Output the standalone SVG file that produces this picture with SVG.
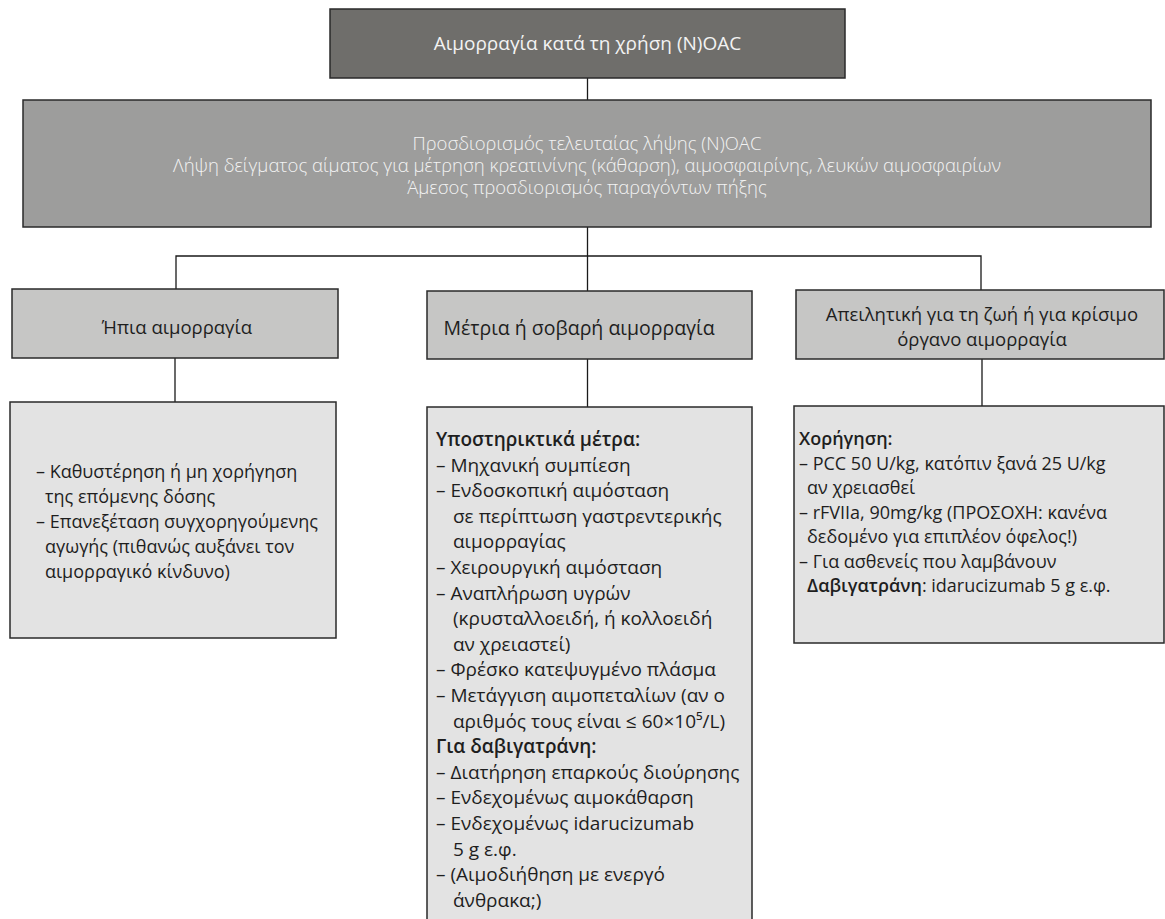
<svg xmlns="http://www.w3.org/2000/svg" width="1165" height="919" viewBox="0 0 1165 919">
<style>
.t{font-family:"Open Sans","Noto Sans","DejaVu Sans",sans-serif;font-size:18px;fill:#1e1e1e}
.l{font-size:19px}
.h{font-size:18.5px}
.s{font-size:18.5px;font-weight:300}
.m{text-anchor:middle}
.w{fill:#f3f3f3}
.b{font-weight:600}
.box{stroke:#2a2a2a;stroke-width:1.5}
.c{stroke:#1a1a1a;stroke-width:1.3;fill:none}
</style>
<rect width="1165" height="919" fill="#ffffff"/>
<g id="connectors">
<path class="c" d="M587.5 78V100"/>
<path class="c" d="M587.5 227V291"/>
<path class="c" d="M176 289V256H981V290"/>
<path class="c" d="M175 358V402"/>
<path class="c" d="M587.5 359V407"/>
<path class="c" d="M982 359V406"/>
</g>
<g id="top">
<rect class="box" x="330" y="9" width="515" height="69" fill="#6f6e6b"/>
<text class="t l m w" x="587.5" y="50">Αιμορραγία κατά τη χρήση (N)OAC</text>
</g>
<g id="assess">
<rect class="box" x="23" y="100" width="1128" height="127" fill="#9d9d9c"/>
<text class="t s m w" x="587" y="150">Προσδιορισμός τελευταίας λήψης (N)OAC</text>
<text class="t s m w" x="587" y="172">Λήψη δείγματος αίματος για μέτρηση κρεατινίνης (κάθαρση), αιμοσφαιρίνης, λευκών αιμοσφαιρίων</text>
<text class="t s m w" x="587" y="194">Άμεσος προσδιορισμός παραγόντων πήξης</text>
</g>
<g id="mild">
<rect class="box" x="12" y="289" width="326" height="69" fill="#c6c6c5"/>
<text class="t h m" x="177" y="334">Ήπια αιμορραγία</text>
</g>
<g id="moderate">
<rect class="box" x="427" y="291" width="325" height="68" fill="#c6c6c5"/>
<text class="t m" style="font-size:19.5px" x="579" y="335">Μέτρια ή σοβαρή αιμορραγία</text>
</g>
<g id="severe">
<rect class="box" x="796" y="290" width="368" height="69" fill="#c6c6c5"/>
<text class="t h m" x="982" y="321">Απειλητική για τη ζωή ή για κρίσιμο</text>
<text class="t h m" x="982" y="346">όργανο αιμορραγία</text>
</g>
<g id="mild-actions">
<rect class="box" x="10" y="402" width="326" height="236" fill="#e3e3e3"/>
<text class="t" x="36" y="478">– Καθυστέρηση ή μη χορήγηση</text>
<text class="t" x="45" y="503">της επόμενης δόσης</text>
<text class="t" x="36" y="528">– Επανεξέταση συγχορηγούμενης</text>
<text class="t" x="45" y="553">αγωγής (πιθανώς αυξάνει τον</text>
<text class="t" x="45" y="578">αιμορραγικό κίνδυνο)</text>
</g>
<g id="moderate-actions">
<rect class="box" x="427" y="407" width="325" height="530" fill="#e3e3e3"/>
<text class="t l b" x="436" y="446">Υποστηρικτικά μέτρα:</text>
<text class="t l" x="436" y="471.6">– Μηχανική συμπίεση</text>
<text class="t l" x="436" y="497.2">– Ενδοσκοπική αιμόσταση</text>
<text class="t l" x="453" y="522.8">σε περίπτωση γαστρεντερικής</text>
<text class="t l" x="453" y="548.4">αιμορραγίας</text>
<text class="t l" x="436" y="574">– Χειρουργική αιμόσταση</text>
<text class="t l" x="436" y="599.6">– Αναπλήρωση υγρών</text>
<text class="t l" x="453" y="625.2">(κρυσταλλοειδή, ή κολλοειδή</text>
<text class="t l" x="453" y="650.8">αν χρειαστεί)</text>
<text class="t l" x="436" y="676.4">– Φρέσκο κατεψυγμένο πλάσμα</text>
<text class="t l" x="436" y="702">– Μετάγγιση αιμοπεταλίων (αν ο</text>
<text class="t l" x="453" y="727.6">αριθμός τους είναι ≤ 60×10⁵/L)</text>
<text class="t l b" x="436" y="753.2">Για δαβιγατράνη:</text>
<text class="t l" x="436" y="778.8">– Διατήρηση επαρκούς διούρησης</text>
<text class="t l" x="436" y="804.4">– Ενδεχομένως αιμοκάθαρση</text>
<text class="t l" x="436" y="830">– Ενδεχομένως idarucizumab</text>
<text class="t l" x="453" y="855.6">5 g ε.φ.</text>
<text class="t l" x="436" y="881.2">– (Αιμοδιήθηση με ενεργό</text>
<text class="t l" x="453" y="906.8">άνθρακα;)</text>
</g>
<g id="severe-actions">
<rect class="box" x="794" y="406" width="370" height="237" fill="#e3e3e3"/>
<text class="t b" x="799" y="445">Χορήγηση:</text>
<text class="t" x="799" y="469.5">– PCC 50 U/kg, κατόπιν ξανά 25 U/kg</text>
<text class="t" x="807" y="494">αν χρειασθεί</text>
<text class="t" x="799" y="518.5">– rFVIIa, 90mg/kg (ΠΡΟΣΟΧΗ: κανένα</text>
<text class="t" x="807" y="543">δεδομένο για επιπλέον όφελος!)</text>
<text class="t" x="799" y="567.5">– Για ασθενείς που λαμβάνουν</text>
<text class="t" x="807" y="592"><tspan class="b">Δαβιγατράνη</tspan>: idarucizumab 5 g ε.φ.</text>
</g>
</svg>
